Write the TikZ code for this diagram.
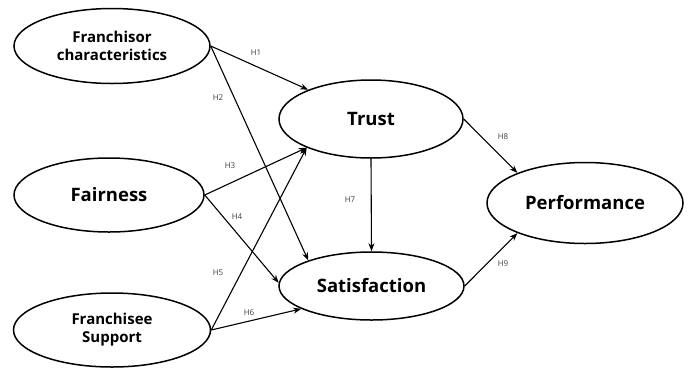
\documentclass[tikz,border=0pt]{standalone}
\usepackage{fontspec}
\setmainfont{Open Sans}
\usetikzlibrary{shapes.geometric,arrows.meta}
\begin{document}
\begin{tikzpicture}[x=1pt,y=-1pt,
  construct/.style={ellipse,draw,line width=1.5pt,inner sep=0pt,align=center,
    font=\fontsize{15}{18}\selectfont\bfseries},
  bigtext/.style={font=\fontsize{18.5}{22}\selectfont\bfseries},
  path/.style={line width=1.1pt,-{Stealth[length=8pt,width=6pt]}},
  hlab/.style={font=\fontsize{8}{9}\selectfont,text=black!75,inner sep=1pt}]
\useasboundingbox (0,0) rectangle (693,368);
\node[construct,minimum width=196pt,minimum height=75pt] (fc) at (112,46) {Franchisor\\characteristics};
\node[construct,bigtext,minimum width=190pt,minimum height=74pt] (fa) at (109,195) {Fairness};
\node[construct,minimum width=197pt,minimum height=74pt] (fs) at (112,330) {Franchisee\\Support};
\node[construct,bigtext,minimum width=184pt,minimum height=78pt] (tr) at (371,119) {Trust};
\node[construct,bigtext,minimum width=185pt,minimum height=68pt] (sa) at (371.5,286) {Satisfaction};
\node[construct,bigtext,minimum width=196pt,minimum height=81pt] (pe) at (585,203) {Performance};
\draw[path] (fc.east) -- (tr.155);
\draw[path] (fc.east) -- (sa.158);
\draw[path] (fa.east) -- (tr.204);
\draw[path] (fa.east) -- (sa.178);
\draw[path] (fs.east) -- (tr.204);
\draw[path] (fs.east) -- (sa.198);
\draw[path] (tr.south) -- (sa.north);
\draw[path] (tr.east) -- (pe.156);
\draw[path] (sa.east) -- (pe.204);
\node[hlab] (h1) at (256,53) {H1};
\node[hlab] (h2) at (218,98) {H2};
\node[hlab] (h3) at (230,166) {H3};
\node[hlab] (h4) at (237,217) {H4};
\node[hlab] (h5) at (218,273) {H5};
\node[hlab] (h6) at (249,313) {H6};
\node[hlab] (h7) at (350,200) {H7};
\node[hlab] (h8) at (503,137) {H8};
\node[hlab] (h9) at (503,264) {H9};
\end{tikzpicture}
\end{document}
